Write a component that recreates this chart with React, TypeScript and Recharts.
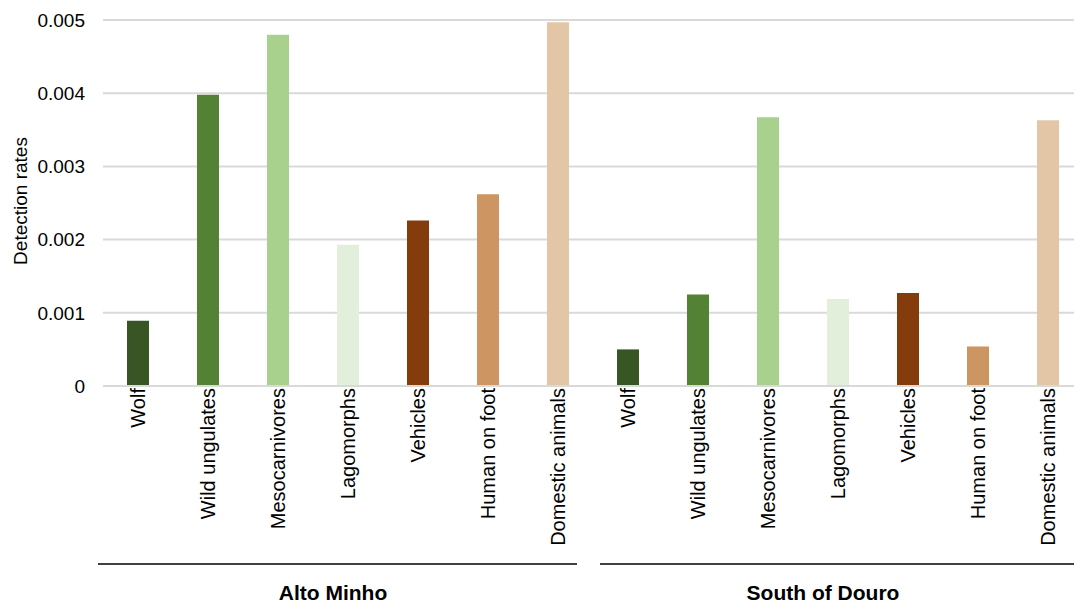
import React from "react";
import { BarChart, Bar, XAxis, YAxis, CartesianGrid, Cell } from "recharts";

const groups = ["Alto Minho", "South of Douro"];
const categories = [
  "Wolf",
  "Wild ungulates",
  "Mesocarnivores",
  "Lagomorphs",
  "Vehicles",
  "Human on foot",
  "Domestic animals",
];
const altoMinho = [0.00089, 0.00398, 0.0048, 0.00193, 0.00226, 0.00262, 0.00497];
const southOfDouro = [0.0005, 0.00125, 0.00367, 0.00119, 0.00127, 0.00054, 0.00363];
const colors = ["#375623", "#548235", "#a9d18e", "#e2efda", "#843c0c", "#cc9561", "#e2c6a6"];
const yTicks = [0, 0.001, 0.002, 0.003, 0.004, 0.005];

const data = [altoMinho, southOfDouro].flatMap((vals, g) =>
  vals.map((v, i) => ({
    key: `${g}-${i}`,
    name: categories[i],
    group: groups[g],
    value: v,
    color: colors[i],
  }))
);

const W = 1090;
const H = 606;
const M = { top: 20, right: 7, bottom: 0, left: 0 };
const Y_W = 103;
const band = (W - M.left - M.right - Y_W) / data.length;
const font = "'Liberation Sans', Arial, sans-serif";
// bracket line ends relative to each group's band edges
const lineInset = [
  [-5, -16],
  [7, 20],
];

const CatTick = (props: any) => {
  const { x, y, payload } = props;
  return (
    <text
      x={x}
      y={y}
      transform={`rotate(-90, ${x}, ${y})`}
      textAnchor="end"
      dominantBaseline="central"
      fontSize={20}
      fontFamily={font}
      fill="#000"
    >
      {categories[payload.index % categories.length] ?? payload.value}
    </text>
  );
};

const GroupTick = (props: any) => {
  const { x, y, payload } = props;
  const n = categories.length;
  const idx = payload.index % n;
  const gi = Math.floor(payload.index / n);
  const out: React.ReactNode[] = [];
  if (idx === 0) {
    const start = x - band / 2;
    const end = start + band * n;
    out.push(
      <line
        key="l"
        x1={start + lineInset[gi][0]}
        x2={end + lineInset[gi][1]}
        y1={y + 6}
        y2={y + 6}
        stroke="#000"
        strokeWidth={1.5}
      />
    );
  }
  if (idx === 3) {
    out.push(
      <text
        key="t"
        x={x - 15}
        y={y + 34}
        textAnchor="middle"
        dominantBaseline="central"
        fontSize={21}
        fontWeight="bold"
        fontFamily={font}
        fill="#000"
      >
        {groups[gi]}
      </text>
    );
  }
  return <g>{out}</g>;
};

const YLabel = (props: any) => {
  const { viewBox } = props;
  const cx = 20;
  const cy = viewBox.y + viewBox.height / 2 - 2;
  return (
    <text
      x={cx}
      y={cy}
      transform={`rotate(-90, ${cx}, ${cy})`}
      textAnchor="middle"
      dominantBaseline="central"
      fontSize={19}
      fontFamily={font}
      fill="#000"
    >
      Detection rates
    </text>
  );
};

export default function App() {
  return (
    <div
      style={{
        position: "absolute",
        left: 0,
        top: 0,
        width: 1074,
        height: H,
        overflow: "hidden",
        background: "#fff",
      }}
    >
      <BarChart width={W} height={H} data={data} margin={M} barSize={22}>
        <CartesianGrid vertical={false} stroke="#d9d9d9" strokeWidth={2} />
        <XAxis
          xAxisId="cat"
          dataKey="key"
          interval={0}
          height={170}
          axisLine={{ stroke: "#d9d9d9", strokeWidth: 2 }}
          tickLine={false}
          tickSize={0}
          tick={<CatTick />}
        />
        <XAxis
          xAxisId="group"
          dataKey="key"
          interval={0}
          height={50}
          axisLine={false}
          tickLine={false}
          tickSize={0}
          tick={<GroupTick />}
        />
        <YAxis
          width={Y_W}
          domain={[0, 0.005]}
          ticks={yTicks}
          axisLine={false}
          tickLine={false}
          tickSize={0}
          tickMargin={18}
          tick={{ fontSize: 19, fill: "#000", fontFamily: font }}
          tickFormatter={(v: number) => (v === 0 ? "0" : v.toFixed(3))}
          label={<YLabel />}
        />
        <Bar xAxisId="cat" dataKey="value" isAnimationActive={false}>
          {data.map((d) => (
            <Cell key={d.key} fill={d.color} />
          ))}
        </Bar>
      </BarChart>
    </div>
  );
}
